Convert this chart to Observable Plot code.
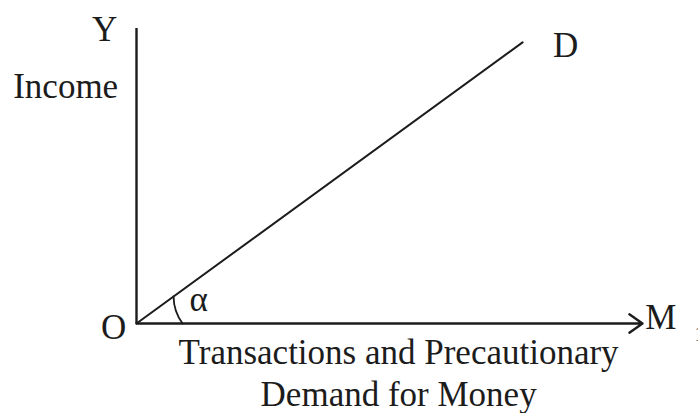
<!DOCTYPE html>
<html>
<head>
<meta charset="utf-8">
<script src="https://cdn.jsdelivr.net/npm/d3@7"></script>
<script src="https://cdn.jsdelivr.net/npm/@observablehq/plot@0.6"></script>
<style>
  html, body { margin: 0; padding: 0; background: #fff; }
</style>
</head>
<body>
<div id="chart"></div>
<script>
// Demand for money (transactions + precautionary) as a straight line through the origin.
const demandLine = [
  { income: 0, money: 0 },
  { income: 95.3, money: 76.3 }
];

// Axes in data units: money on x, income on y.
const xAxisEnd = 100;
const yAxisEnd = 100;

// Angle marker α: starts on the money axis, ends on the demand line.
const arcStartMoney = 9.1;
const arcEndFraction = 0.096;

// Text labels (anchored in data units).
const labelNames = ["Y", "Income", "D", "O", "α", "M", "Transactions and Precautionary", "Demand for Money"];
const labelX = [-6.3, -14.0, 84.8, -4.5, 12.3, 103.6, 51.8, 51.8];
const labelY = [95.9, 76.6, 90.2, -5.1, 4.4, -1.7, -13.6, -27.8];
const labelAnchor = ["middle", "middle", "middle", "middle", "middle", "start", "middle", "middle"];
const subscript = [{ text: "1", x: 110.3, y: -5.8 }];

const labels = labelNames.map((text, i) => ({ text, x: labelX[i], y: labelY[i], anchor: labelAnchor[i] }));

const end = demandLine[demandLine.length - 1];
const arc = [{
  x1: arcStartMoney, y1: 0,
  x2: end.money * arcEndFraction, y2: end.income * arcEndFraction
}];

const ink = "#1c1c1c";

const chart = Plot.plot({
  width: 698,
  height: 413,
  margin: 0,
  x: { domain: [0, 100], range: [136, 642] },
  y: { domain: [0, 100], range: [323, 28] },
  axis: null,
  style: { background: "#fff", fontFamily: "'Liberation Serif', 'Times New Roman', serif", overflow: "visible", color: ink },
  marks: [
    // vertical income axis
    Plot.ruleX([0], { y1: 0, y2: yAxisEnd, stroke: ink, strokeWidth: 2.4 }),
    // horizontal money axis with an open arrowhead
    Plot.arrow([{ x1: 0, y1: 0, x2: xAxisEnd, y2: 0 }], {
      x1: "x1", y1: "y1", x2: "x2", y2: "y2",
      stroke: ink, strokeWidth: 2.4, headLength: 10, headAngle: 70
    }),
    // demand line D
    Plot.line(demandLine, { x: "money", y: "income", stroke: ink, strokeWidth: 2 }),
    // angle arc α between the axis and the demand line
    Plot.arrow(arc, {
      x1: "x1", y1: "y1", x2: "x2", y2: "y2",
      bend: 18, headLength: 0, stroke: ink, strokeWidth: 1.8
    }),
    Plot.text(labels, {
      x: "x", y: "y", text: "text", textAnchor: (d) => d.anchor,
      lineAnchor: "bottom", fontSize: 35, fill: ink
    }),
    Plot.text(subscript, {
      x: "x", y: "y", text: "text", textAnchor: "start",
      lineAnchor: "bottom", fontSize: 20, fill: ink
    })
  ]
});

document.getElementById("chart").appendChild(chart);
</script>
</body>
</html>
